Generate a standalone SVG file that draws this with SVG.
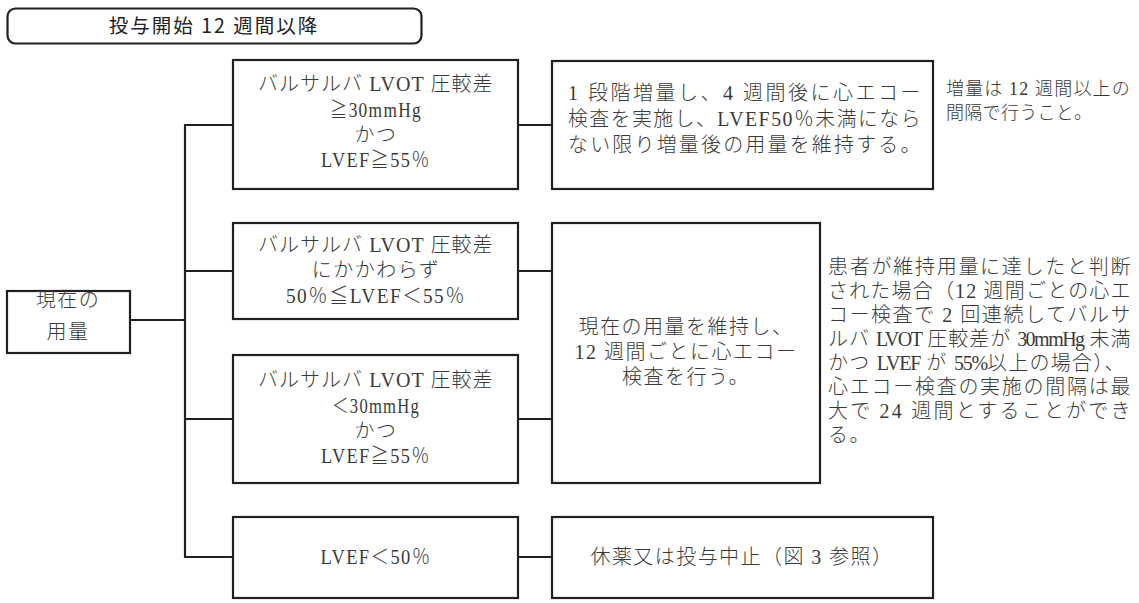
<svg xmlns="http://www.w3.org/2000/svg" width="1139" height="603" viewBox="0 0 1139 603">
<style>
.bx{fill:#fff;stroke:#231f20;stroke-width:2.2}
.ln{fill:none;stroke:#231f20;stroke-width:2.2}
.t{font-family:"Liberation Serif","Noto Sans CJK JP",serif;font-size:20px;font-weight:300;fill:#3a3a3a;letter-spacing:1.5px}
.c{text-anchor:middle}
.n1{font-size:18px;letter-spacing:0.3px}
.la{letter-spacing:-1px}
.ttl{font-family:"Noto Sans CJK JP","Liberation Sans",sans-serif;font-size:19.5px;font-weight:400;fill:#222;text-anchor:middle;letter-spacing:2px}
</style>
<rect width="1139" height="603" fill="#fff"/>
<g id="title">
<rect x="7.5" y="8.5" width="414" height="35" rx="8" class="bx"/>
<text x="214" y="33" class="ttl">投与開始 12 週間以降</text>
</g>
<g id="connectors">
<polyline class="ln" points="130,320 185,320"/>
<polyline class="ln" points="233,125 185,125 185,557 233,557"/>
<polyline class="ln" points="185,271 233,271"/>
<polyline class="ln" points="185,419 233,419"/>
<polyline class="ln" points="518,125 552,125"/>
<polyline class="ln" points="518,271 552,271"/>
<polyline class="ln" points="518,419 552,419"/>
<polyline class="ln" points="518,557 552,557"/>
</g>
<g id="current">
<rect x="7" y="291" width="123" height="62" class="bx"/>
<text x="68" y="307" class="t c">現在の</text>
<text x="68" y="339" class="t c">用量</text>
</g>
<g id="cond1">
<rect x="233" y="60" width="285" height="129" class="bx"/>
<text x="376" y="91" class="t c" textLength="236">バルサルバ LVOT 圧較差</text>
<text x="376" y="117" class="t c" textLength="92" lengthAdjust="spacingAndGlyphs">≧30mmHg</text>
<text x="376" y="142" class="t c">かつ</text>
<text x="376" y="167" class="t c" textLength="110" lengthAdjust="spacingAndGlyphs">LVEF≧55％</text>
</g>
<g id="cond2">
<rect x="233" y="223" width="285" height="96" class="bx"/>
<text x="376" y="252" class="t c" textLength="236">バルサルバ LVOT 圧較差</text>
<text x="376" y="277" class="t c">にかかわらず</text>
<text x="376" y="303" class="t c" textLength="180" lengthAdjust="spacingAndGlyphs">50％≦LVEF＜55％</text>
</g>
<g id="cond3">
<rect x="233" y="355" width="285" height="128" class="bx"/>
<text x="376" y="387" class="t c" textLength="236">バルサルバ LVOT 圧較差</text>
<text x="376" y="413" class="t c" textLength="88" lengthAdjust="spacingAndGlyphs">＜30mmHg</text>
<text x="376" y="438" class="t c">かつ</text>
<text x="376" y="463" class="t c" textLength="110" lengthAdjust="spacingAndGlyphs">LVEF≧55％</text>
</g>
<g id="cond4">
<rect x="233" y="517" width="285" height="81" class="bx"/>
<text x="376" y="564" class="t c" textLength="111" lengthAdjust="spacingAndGlyphs">LVEF＜50％</text>
</g>
<g id="action1">
<rect x="552" y="61" width="381" height="128" class="bx"/>
<text x="568" y="100" class="t" textLength="354">1 段階増量し、4 週間後に心エコー</text>
<text x="568" y="126" class="t" textLength="354" lengthAdjust="spacingAndGlyphs">検査を実施し、LVEF50％未満になら</text>
<text x="568" y="152" class="t" textLength="354">ない限り増量後の用量を維持する。</text>
</g>
<g id="action2">
<rect x="552" y="223" width="268" height="260" class="bx"/>
<text x="686" y="334" class="t c">現在の用量を維持し、</text>
<text x="686" y="359" class="t c">12 週間ごとに心エコー</text>
<text x="686" y="384" class="t c">検査を行う。</text>
</g>
<g id="action3">
<rect x="552" y="517" width="381" height="81" class="bx"/>
<text x="742" y="564" class="t c" textLength="303">休薬又は投与中止（図 3 参照）</text>
</g>
<g id="note1">
<text x="946" y="95" class="t n1" textLength="184">増量は 12 週間以上の</text>
<text x="946" y="119" class="t n1">間隔で行うこと。</text>
</g>
<g id="note2">
<text x="828" y="274" class="t" textLength="304">患者が維持用量に達したと判断</text>
<text x="828" y="298" class="t" textLength="304">された場合（12 週間ごとの心エ</text>
<text x="828" y="322" class="t" textLength="304">コー検査で 2 回連続してバルサ</text>
<text x="828" y="346" class="t" textLength="304">ルバ <tspan class="la">LVOT</tspan> 圧較差が <tspan class="la">30mmHg</tspan> 未満</text>
<text x="828" y="370" class="t" textLength="298">かつ <tspan class="la">LVEF</tspan> が <tspan class="la">55%</tspan>以上の場合）、</text>
<text x="828" y="394" class="t" textLength="304">心エコー検査の実施の間隔は最</text>
<text x="828" y="418" class="t" textLength="304">大で 24 週間とすることができ</text>
<text x="828" y="442" class="t">る。</text>
</g>
</svg>
